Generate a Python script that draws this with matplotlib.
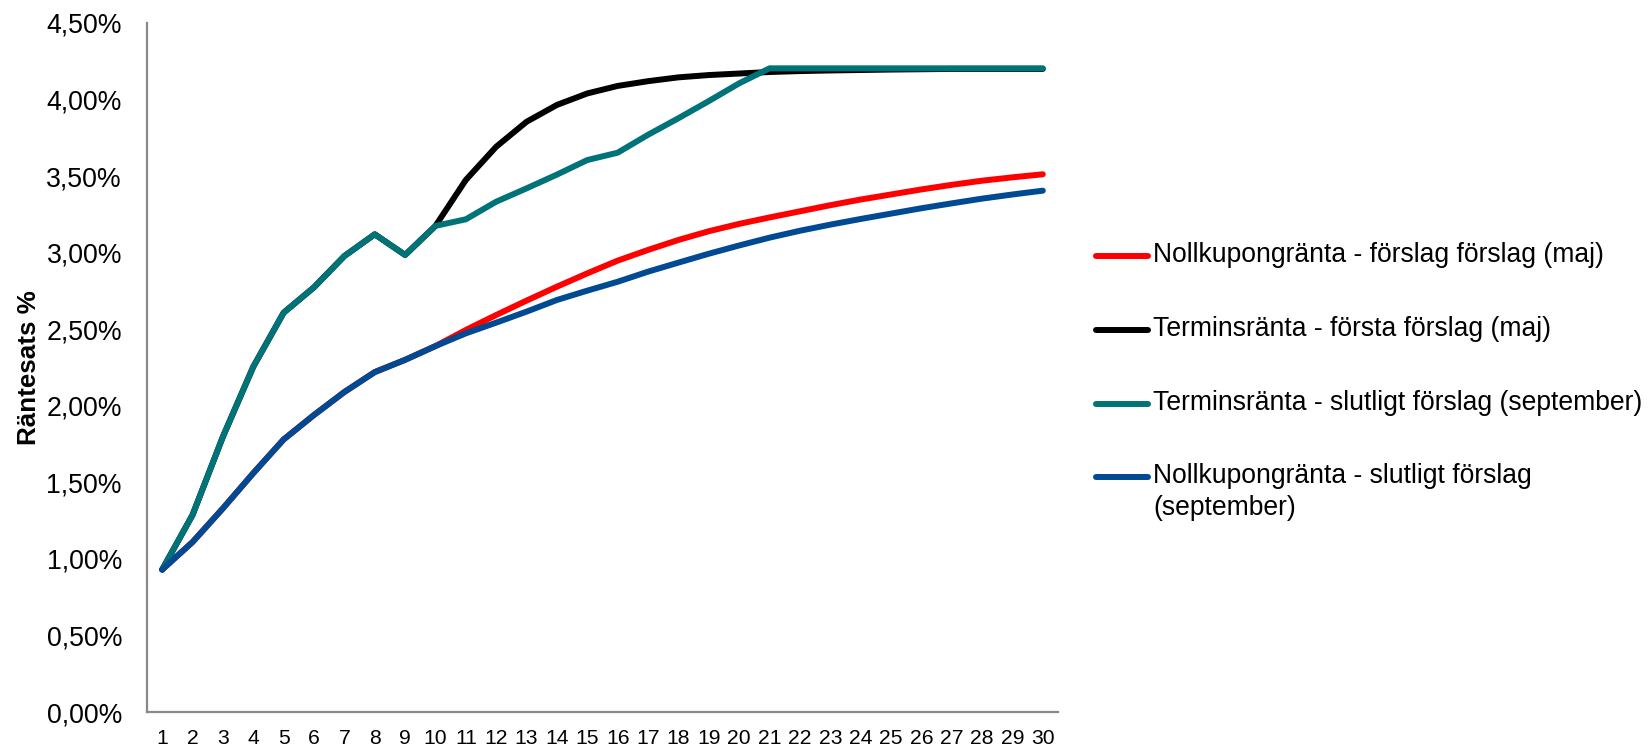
import matplotlib
matplotlib.use("Agg")
import matplotlib.pyplot as plt
from matplotlib.lines import Line2D
from matplotlib.ticker import FuncFormatter, MultipleLocator

plt.rcParams['font.family'] = ['Liberation Sans', 'DejaVu Sans']

# Maturity in years
years = list(range(1, 31))

# Rates in percent
nollkupong_maj = [0.93, 1.11, 1.33, 1.56, 1.78, 1.94, 2.09, 2.22, 2.30, 2.39,
                  2.495, 2.593, 2.687, 2.778, 2.865, 2.948, 3.018, 3.083, 3.14, 3.188,
                  3.23, 3.27, 3.31, 3.347, 3.38, 3.413, 3.443, 3.47, 3.492, 3.512]
termin_maj = [0.93, 1.287, 1.798, 2.255, 2.608, 2.774, 2.978, 3.12, 2.985, 3.175,
              3.475, 3.692, 3.855, 3.965, 4.04, 4.089, 4.12, 4.145, 4.16, 4.17,
              4.18, 4.186, 4.19, 4.193, 4.196, 4.198, 4.2, 4.2, 4.2, 4.2]
termin_sep = [0.93, 1.287, 1.798, 2.255, 2.608, 2.774, 2.978, 3.12, 2.985, 3.175,
              3.218, 3.333, 3.42, 3.51, 3.605, 3.653, 3.77, 3.878, 3.99, 4.106,
              4.204, 4.204, 4.204, 4.204, 4.204, 4.204, 4.204, 4.204, 4.204, 4.204]
nollkupong_sep = [0.93, 1.11, 1.33, 1.56, 1.78, 1.94, 2.09, 2.22, 2.30, 2.39,
                  2.473, 2.543, 2.615, 2.691, 2.752, 2.81, 2.876, 2.935, 2.993, 3.047,
                  3.098, 3.143, 3.183, 3.22, 3.255, 3.29, 3.322, 3.353, 3.38, 3.405]

series = [nollkupong_maj, termin_maj, termin_sep, nollkupong_sep]
labels = ["Nollkupongränta - förslag förslag (maj)",
          "Terminsränta - första förslag (maj)",
          "Terminsränta - slutligt förslag (september)",
          "Nollkupongränta - slutligt förslag\n(september)"]
colors = ["#FF0000", "#000000", "#007378", "#004A94"]
ylabel = "Räntesats %"

W, H = 1652, 748
fig = plt.figure(figsize=(W / 100, H / 100), dpi=100)
ax = fig.add_axes([147 / W, 1 - 712 / H, (1058 - 147) / W, (712 - 23) / H])

for vals, col in zip(series, colors):
    ax.plot(years, vals, color=col, linewidth=4.3, solid_capstyle='round',
            solid_joinstyle='round')

ax.set_xlim(0.5, 30.5)
ax.set_ylim(0, 4.5)
ax.yaxis.set_major_locator(MultipleLocator(0.5))
ax.yaxis.set_major_formatter(FuncFormatter(lambda v, _: f"{v:.2f}%".replace('.', ',')))
ax.set_xticks(years)
ax.set_xticklabels([str(y) for y in years])

for side in ('top', 'right'):
    ax.spines[side].set_visible(False)
for side in ('left', 'bottom'):
    ax.spines[side].set_color('#888888')
    ax.spines[side].set_linewidth(1.6)

ax.tick_params(axis='y', length=0, pad=18, labelsize=19.2)
ax.tick_params(axis='x', length=0, pad=12, labelsize=15.2)
ax.set_ylabel(ylabel, fontsize=18.7, fontweight='bold')
ax.yaxis.set_label_coords(-106 / (1058 - 147), 0.5)

# Legend drawn at fixed positions on the figure
row_y = [256, 330, 404, 477]
for lab, col, yy in zip(labels, colors, row_y):
    fy = 1 - yy / H
    fig.add_artist(Line2D([1096 / W, 1148 / W], [fy, fy], color=col,
                          linewidth=4.3, solid_capstyle='round',
                          transform=fig.transFigure))
    fig.text(1153 / W, 1 - (yy - 14) / H, lab, fontsize=19.1, va='top',
             ha='left', linespacing=1.3)

fig.savefig("out.png", dpi=100)
